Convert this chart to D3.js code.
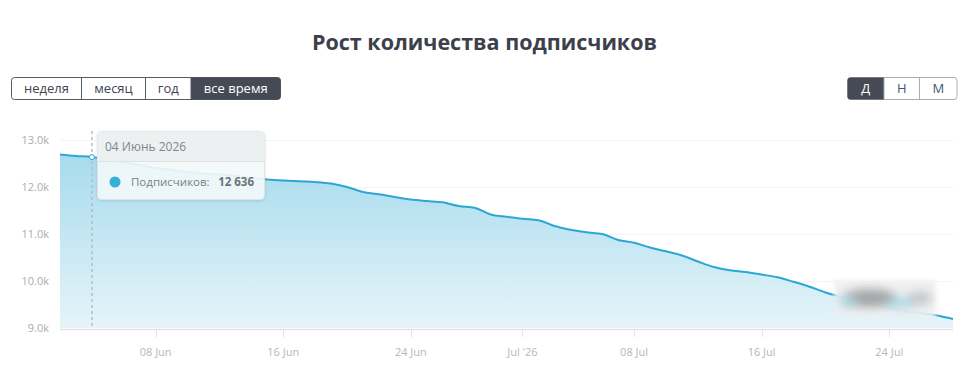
<!DOCTYPE html>
<html><head><meta charset="utf-8">
<script src="https://cdn.jsdelivr.net/npm/d3@7"></script>
<style>
body{margin:0;background:#fff;font-family:"Open Sans",sans-serif;}
svg{display:block}
</style></head>
<body><svg id="c" width="967" height="382"></svg>
<script>
const title = "Рост количества подписчиков";
const periodButtons = ["неделя","месяц","год","все время"];
const scaleButtons = ["Д","Н","М"];
const startDate = "2026-06-02";
const endDate = "2026-07-28";
const subscribers = [12691,12660,12636,12574,12521,12468,12404,12362,12319,12287,12266,12234,12191,12160,12138,12121,12106,12074,12000,11894,11847,11787,11734,11702,11674,11596,11560,11415,11368,11323,11294,11170,11091,11036,11000,10872,10813,10713,10632,10543,10415,10298,10228,10191,10136,10079,9983,9879,9755,9660,9574,9489,9426,9362,9319,9266,9191];
const yTicks = [9000,10000,11000,12000,13000];
const xTickDates = ["2026-06-08","2026-06-16","2026-06-24","2026-07-01","2026-07-08","2026-07-16","2026-07-24"];
const xTickLabels = ["08 Jun","16 Jun","24 Jun","Jul '26","08 Jul","16 Jul","24 Jul"];
const tooltipIndex = 2;
const tooltipDate = "04 Июнь 2026";
const tooltipLabel = "Подписчиков:";
const tooltipValue = "12 636";

const parse = d3.utcParse("%Y-%m-%d");
const t0 = parse(startDate);
const data = subscribers.map((v,i)=>({d:d3.utcDay.offset(t0,i), v}));

const svg = d3.select("#c");
const L=60, R=953, T=140, B=328;
const x = d3.scaleUtc().domain([t0, parse(endDate)]).range([L,R]);
const y = d3.scaleLinear().domain([9000,13000]).range([B,T]);

// title
svg.append("text").attr("x",484.5).attr("y",50).attr("text-anchor","middle")
  .attr("font-size",21.5).attr("font-weight",700).attr("fill","#3c404b").text(title);

// button groups
function buttons(x0, widths, labels, active, border, color){
  const g = svg.append("g");
  let cx = x0;
  const total = d3.sum(widths);
  const h=22, y0=77.5;
  g.append("rect").attr("x",x0).attr("y",y0).attr("width",total).attr("height",h).attr("rx",3)
    .attr("fill","#fff").attr("stroke",border).attr("stroke-width",1);
  labels.forEach((lab,i)=>{
    const w=widths[i];
    if(i===active){
      const first=i===0, last=i===labels.length-1;
      const rr=3;
      const p = d3.path();
      const xa=cx, xb=cx+w, ya=y0, yb=y0+h;
      p.moveTo(xa+(first?rr:0),ya);
      p.lineTo(xb-(last?rr:0),ya);
      if(last) p.quadraticCurveTo(xb,ya,xb,ya+rr);
      p.lineTo(xb,yb-(last?rr:0));
      if(last) p.quadraticCurveTo(xb,yb,xb-rr,yb);
      p.lineTo(xa+(first?rr:0),yb);
      if(first) p.quadraticCurveTo(xa,yb,xa,yb-rr);
      p.lineTo(xa,ya+(first?rr:0));
      if(first) p.quadraticCurveTo(xa,ya,xa+rr,ya);
      p.closePath();
      g.append("path").attr("fill","#454a55").attr("d",p.toString());
    }
    if(i>0) g.append("line").attr("x1",cx).attr("x2",cx).attr("y1",y0).attr("y2",y0+h).attr("stroke",border);
    g.append("text").attr("x",cx+w/2).attr("y",y0+h/2+4.5).attr("text-anchor","middle")
      .attr("font-size",13).attr("fill",i===active?"#fff":color).text(lab);
    cx+=w;
  });
}
buttons(11.5,[70,64,45.5,89.5],periodButtons,3,"#555a63","#3f4450");
buttons(847.5,[36.5,35.5,37.5],scaleButtons,0,"#a9adb3","#3e5670");

// grid
svg.append("g").selectAll("line").data(yTicks.slice(1)).join("line")
  .attr("x1",L).attr("x2",R).attr("y1",d=>y(d)+0.5).attr("y2",d=>y(d)+0.5)
  .attr("stroke","#f4f4f4");

// gradient
const defs = svg.append("defs");
const gr = defs.append("linearGradient").attr("id","ag").attr("x1",0).attr("y1",0).attr("x2",0).attr("y2",1);
gr.append("stop").attr("offset","0%").attr("stop-color","#a7dbed");
gr.append("stop").attr("offset","100%").attr("stop-color","#e5f4f9");
const blur = defs.append("filter").attr("id","bl").attr("x","-50%").attr("y","-80%").attr("width","200%").attr("height","260%");
blur.append("feGaussianBlur").attr("stdDeviation",5);
const blur2 = defs.append("filter").attr("id","bl2").attr("x","-10%").attr("y","-20%").attr("width","120%").attr("height","140%");
blur2.append("feGaussianBlur").attr("stdDeviation",2);

const area = d3.area().x(d=>x(d.d)).y0(B).y1(d=>y(d.v)).curve(d3.curveMonotoneX);
const line = d3.line().x(d=>x(d.d)).y(d=>y(d.v)).curve(d3.curveMonotoneX);
svg.append("path").datum(data).attr("d",area).attr("fill","url(#ag)");
svg.append("path").datum(data).attr("d",line).attr("fill","none").attr("stroke","#2ba7d3").attr("stroke-width",2);

// y axis labels
svg.append("g").selectAll("text").data(yTicks).join("text")
  .attr("x",49).attr("y",d=>y(d)+4).attr("text-anchor","end")
  .attr("font-size",11).attr("fill","#b3aaa3").text(d=>(d/1000).toFixed(1)+"k");

// x axis
svg.append("line").attr("x1",L).attr("x2",R).attr("y1",B+1.5).attr("y2",B+1.5).attr("stroke","#e3e3e6").attr("stroke-width",1.5);
const xt = xTickDates.map(parse);
svg.append("g").selectAll("line").data(xt).join("line")
  .attr("x1",d=>Math.round(x(d))+0.5).attr("x2",d=>Math.round(x(d))+0.5).attr("y1",B+2).attr("y2",B+9)
  .attr("stroke","#e3e3e6");
svg.append("g").selectAll("text").data(xt).join("text")
  .attr("x",d=>x(d)).attr("y",356).attr("text-anchor","middle")
  .attr("font-size",11).attr("fill","#b2b8c2").text((d,i)=>xTickLabels[i]);

// blurred watermark
const wm = svg.append("g");
wm.append("rect").attr("x",834).attr("y",280).attr("width",102).attr("height",37).attr("fill","#eef0f1").attr("opacity",0.95).attr("filter","url(#bl2)");
wm.append("ellipse").attr("cx",870).attr("cy",298).attr("rx",26).attr("ry",9).attr("fill","#8c8c8e").attr("opacity",0.75).attr("filter","url(#bl)");
wm.append("ellipse").attr("cx",848).attr("cy",302).attr("rx",10).attr("ry",7).attr("fill","#a9d8e8").attr("opacity",0.7).attr("filter","url(#bl)");
wm.append("ellipse").attr("cx",900).attr("cy",303).attr("rx",16).attr("ry",6).attr("fill","#8fcde2").attr("opacity",0.6).attr("filter","url(#bl)");
wm.append("ellipse").attr("cx",920).attr("cy",298).attr("rx",12).attr("ry",7).attr("fill","#a7a7a9").attr("opacity",0.55).attr("filter","url(#bl)");

// crosshair
const tx = x(data[tooltipIndex].d);
svg.append("line").attr("x1",tx).attr("x2",tx).attr("y1",131).attr("y2",B)
  .attr("stroke","#b3bcc6").attr("stroke-width",1.5).attr("stroke-dasharray","3,3");
svg.append("circle").attr("cx",tx).attr("cy",y(data[tooltipIndex].v)).attr("r",2.5).attr("fill","#fff").attr("stroke","#2ba7d3").attr("stroke-width",1);

// tooltip
const tt = svg.append("g");
const shadow = defs.append("filter").attr("id","sh").attr("x","-10%").attr("y","-10%").attr("width","130%").attr("height","140%");
shadow.append("feDropShadow").attr("dx",0).attr("dy",1).attr("stdDeviation",1.5).attr("flood-color","#000").attr("flood-opacity",0.12);
tt.append("rect").attr("x",97.5).attr("y",131.5).attr("width",167).attr("height",68).attr("rx",4)
  .attr("fill","#f4f9fb").attr("fill-opacity",0.9).attr("stroke","#dfe3e6").attr("filter","url(#sh)");
tt.append("path").attr("d","M97.5,161.5 V135.5 Q97.5,131.5 101.5,131.5 H260.5 Q264.5,131.5 264.5,135.5 V161.5 Z")
  .attr("fill","#eceff0").attr("fill-opacity",0.95);
tt.append("line").attr("x1",97.5).attr("x2",264.5).attr("y1",161.5).attr("y2",161.5).attr("stroke","#dfe3e6");
tt.append("text").attr("x",105).attr("y",151).attr("font-size",12).attr("fill","#80868e").text(tooltipDate);
tt.append("circle").attr("cx",115).attr("cy",182).attr("r",5.5).attr("fill","#35b0da");
tt.append("text").attr("x",131).attr("y",186).attr("font-size",11.5).attr("fill","#7b8088").text(tooltipLabel);
tt.append("text").attr("x",254).attr("y",186).attr("text-anchor","end").attr("font-size",11.5).attr("font-weight",700).attr("fill","#6d727a").text(tooltipValue);
</script></body></html>
